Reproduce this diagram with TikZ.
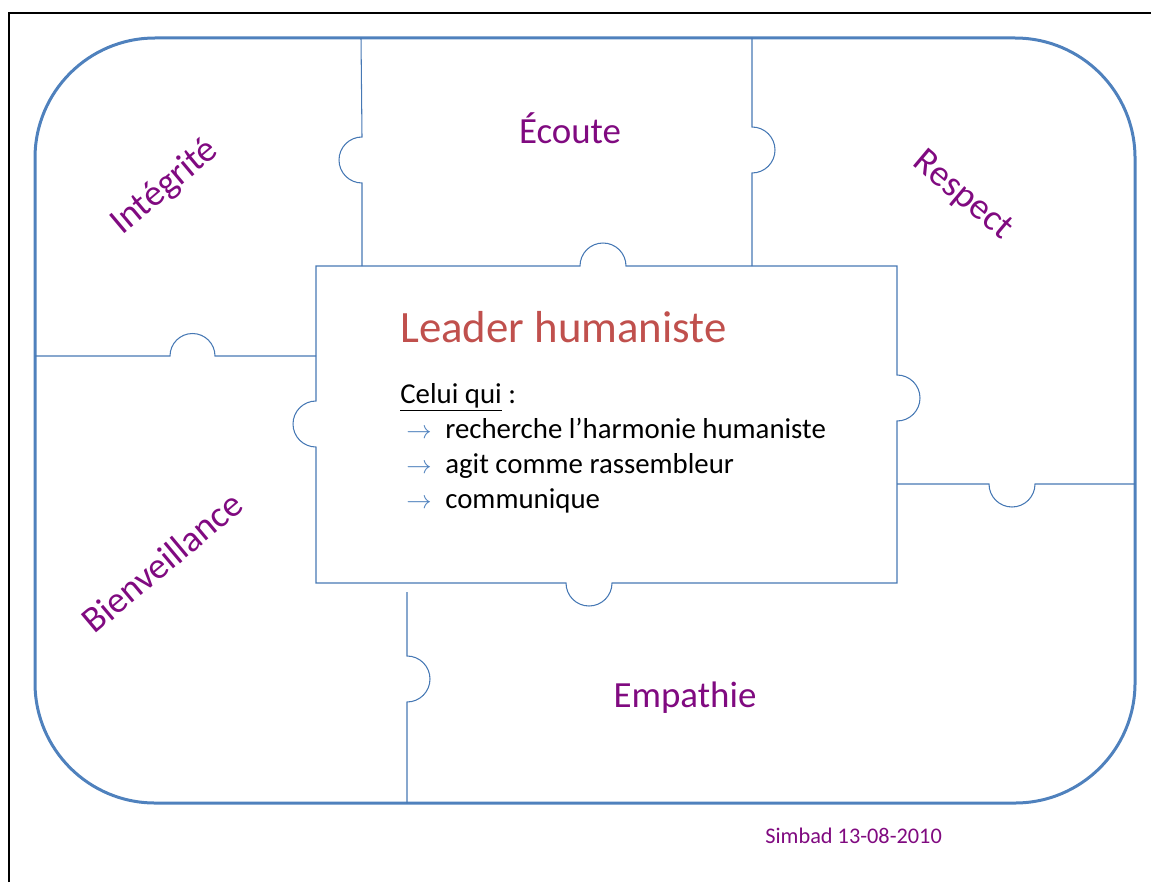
\documentclass[tikz,border=0pt]{standalone}
\usepackage{fontspec}
\setmainfont{Carlito}
\usepackage{tikz}
\definecolor{bord}{RGB}{79,129,189}
\definecolor{trait}{RGB}{70,120,180}
\definecolor{violet}{RGB}{128,10,128}
\definecolor{rouge}{RGB}{192,80,77}
\newcommand{\fleche}{\makebox[0.78cm][l]{\fontsize{15}{15}\selectfont\textcolor{bord}{$\rightarrow$}}}
\tikzstyle{cadre}=[line width=0.06cm, draw=bord, rounded corners=2.4cm]
\tikzstyle{piece}=[line width=0.6pt, draw=trait]
\tikzstyle{valeur}=[text=violet, font=\fontsize{21}{25}\selectfont]
\tikzstyle{liste}=[anchor=base west, inner sep=0pt, font=\fontsize{16.4}{20}\selectfont]

\begin{document}
\begin{tikzpicture}[x=0.02cm, y=-0.02cm]
  \useasboundingbox (0,0) rectangle (1151,882);
  \draw[line width=0.05cm] (9,882) |- (1151,13);
  \draw[cadre] (35,38) rectangle (1135,803);

  % les pieces du puzzle
  \draw[piece] (361,38) -- (362,137) arc[start angle=90, end angle=270, radius=0.46cm] -- (362,266);
  \draw[piece] (752,38) -- (752,127) arc[start angle=90, end angle=-90, radius=0.46cm] -- (752,266);
  \draw[piece] (35,356) -- (170,356) arc[start angle=180, end angle=0, radius=0.45cm] -- (316,356);
  \draw[piece] (897,484) -- (989,484) arc[start angle=180, end angle=360, radius=0.46cm] -- (1135,484);
  \draw[piece] (407,592) -- (407,656) arc[start angle=90, end angle=-90, radius=0.46cm] -- (407,803);
  \draw[piece] (316,266) -- (580,266) arc[start angle=180, end angle=0, radius=0.46cm]
    -- (897,266) -- (897,375) arc[start angle=90, end angle=-90, radius=0.46cm]
    -- (897,583) -- (612,583) arc[start angle=0, end angle=-180, radius=0.46cm]
    -- (316,583) -- (316,447) arc[start angle=270, end angle=90, radius=0.46cm] -- cycle;

  \node at (570,143) (ecoute)[valeur, anchor=base] {Écoute};
  \node at (165,187) (integrite)[valeur, rotate=40] {Intégrité};
  \node at (962,196) (respect)[valeur, rotate=-40] {Respect};
  \node at (162,562) (bienv)[valeur, rotate=40] {Bienveillance};
  \node at (685,707) (empathie)[valeur, anchor=base] {Empathie};

  \node at (400,342) (leader)[anchor=base west, inner sep=0pt, text=rouge, font=\fontsize{25.5}{30}\selectfont] {Leader humaniste};
  \node at (400,403) (celui)[liste] {\underline{Celui qui} :};
  \node at (406,438) (rech)[liste] {\fleche recherche l’harmonie humaniste};
  \node at (406,473) (agit)[liste] {\fleche agit comme rassembleur};
  \node at (406,508) (comm)[liste] {\fleche communique};

  \node at (765,843) (date)[anchor=base west, inner sep=0pt, text=violet, font=\fontsize{12.7}{15}\selectfont] {Simbad 13-08-2010};
\end{tikzpicture}
\end{document}
